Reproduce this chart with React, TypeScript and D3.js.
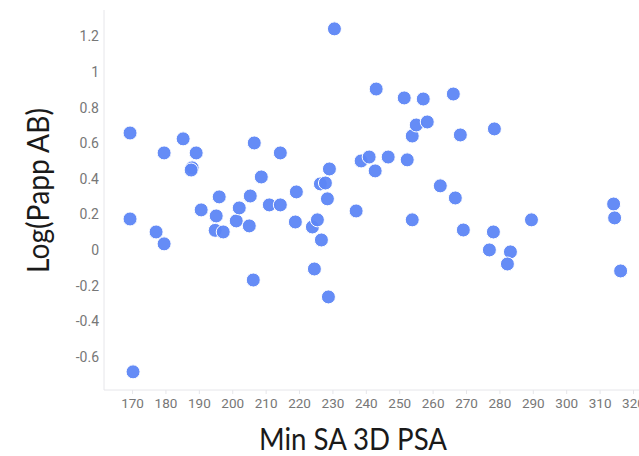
import { useEffect, useRef } from 'react';
import * as d3 from 'd3';

// Min SA 3D PSA vs Log(Papp AB)
const psa = [
  169.4, 169.4, 170.3, 177.2, 179.6, 179.6, 185.3, 189.2, 188.0, 187.7,
  190.7, 195.2, 196.1, 194.9, 197.3, 201.2, 202.1, 205.1, 205.4, 206.3,
  206.6, 208.7, 211.1, 214.4, 214.4, 219.2, 218.9, 224.0, 225.5, 224.6,
  226.7, 228.5, 228.8, 226.4, 227.9, 229.1, 230.6, 237.1, 238.6, 241.0,
  243.1, 242.8, 246.7, 251.5, 252.4, 253.9, 255.1, 258.4, 257.2, 266.2,
  268.3, 262.3, 266.8, 253.9, 269.2, 278.5, 278.2, 277.0, 283.3, 282.4,
  289.6, 314.2, 314.5, 316.3,
];
const logPapp = [
  0.657, 0.174, -0.685, 0.101, 0.034, 0.545, 0.624, 0.545, 0.461, 0.449,
  0.225, 0.191, 0.298, 0.11, 0.101, 0.163, 0.236, 0.135, 0.303, -0.169,
  0.601, 0.41, 0.253, 0.253, 0.545, 0.326, 0.157, 0.129, 0.169, -0.107,
  0.056, 0.287, -0.264, 0.371, 0.376, 0.455, 1.242, 0.219, 0.5, 0.522,
  0.904, 0.444, 0.522, 0.854, 0.506, 0.64, 0.702, 0.719, 0.848, 0.876,
  0.646, 0.36, 0.292, 0.169, 0.112, 0.68, 0.101, 0.0, -0.011, -0.079,
  0.169, 0.258, 0.18, -0.118,
];
const xTicks = [170, 180, 190, 200, 210, 220, 230, 240, 250, 260, 270, 280, 290, 300, 310, 320];
const yTicks = [-0.6, -0.4, -0.2, 0, 0.2, 0.4, 0.6, 0.8, 1, 1.2];

export default function App() {
  const svgRef = useRef<SVGSVGElement>(null);

  useEffect(() => {
    const el = svgRef.current;
    if (!el) return;
    const svg = d3.select(el);
    svg.selectAll('*').remove();

    const W = 639, H = 456;
    const left = 104, right = 639, top = 10, bottom = 390;

    const x = d3.scaleLinear().domain([161.6, 321.8]).range([left, right]);
    const y = d3.scaleLinear().domain([-0.787, 1.348]).range([bottom, top]);

    const tickFont = 'Roboto, sans-serif';
    const tickColor = '#777';

    // axis lines
    svg.append('line')
      .attr('x1', left).attr('x2', left).attr('y1', top).attr('y2', bottom)
      .style('stroke', '#e6e6ea').style('stroke-width', 1);
    svg.append('line')
      .attr('x1', left).attr('x2', right).attr('y1', bottom).attr('y2', bottom)
      .style('stroke', '#e6e6ea').style('stroke-width', 1);

    // x axis
    const xa = svg.append('g')
      .attr('transform', `translate(0,${bottom})`)
      .call(d3.axisBottom(x).tickValues(xTicks).tickSize(4).tickPadding(4).tickFormat(d3.format('d')));
    xa.select('.domain').remove();
    xa.selectAll('line').style('stroke', '#e6e6ea');
    xa.selectAll('text')
      .style('font-family', tickFont).style('font-size', '13.5px').style('fill', tickColor);

    // y axis
    const ya = svg.append('g')
      .attr('transform', `translate(${left},0)`)
      .call(d3.axisLeft(y).tickValues(yTicks).tickSize(0).tickPadding(5).tickFormat(d => `${+(+d).toFixed(1)}`));
    ya.select('.domain').remove();
    ya.selectAll('text')
      .style('font-family', tickFont).style('font-size', '14px').style('fill', tickColor);

    // points
    svg.append('g')
      .selectAll('circle')
      .data(psa.map((v, i) => [v, logPapp[i]]))
      .join('circle')
      .attr('cx', d => x(d[0]))
      .attr('cy', d => y(d[1]))
      .attr('r', 7)
      .attr('fill', '#5d86f5')
      .attr('fill-opacity', 0.95)
      .attr('stroke', '#ffffff')
      .attr('stroke-width', 1);

    // titles (Calibri-like, squeezed to the reference widths)
    const titleFont = 'Lato, "Open Sans", sans-serif';
    svg.append('text')
      .attr('x', 259).attr('y', 450)
      .attr('textLength', 188).attr('lengthAdjust', 'spacingAndGlyphs')
      .style('font-family', titleFont).style('font-size', '30px').style('fill', '#1a1a1a')
      .text('Min SA 3D PSA');
    svg.append('text')
      .attr('transform', `translate(49,273) rotate(-90)`)
      .attr('textLength', 165).attr('lengthAdjust', 'spacingAndGlyphs')
      .style('font-family', titleFont).style('font-size', '30px').style('fill', '#1a1a1a')
      .text('Log(Papp AB)');

    svg.attr('width', W).attr('height', H);
  }, []);

  return (
    <div style={{ position: 'absolute', left: 0, top: 0 }}>
      <svg ref={svgRef} width={639} height={456} style={{ display: 'block', background: '#fff' }} />
    </div>
  );
}
